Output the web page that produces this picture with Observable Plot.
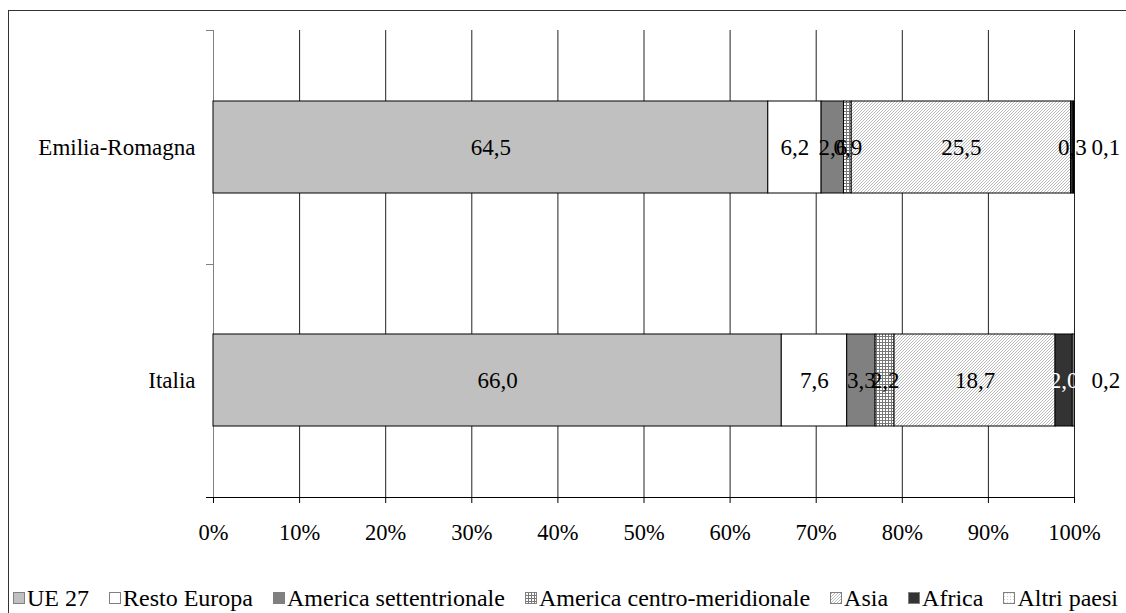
<!DOCTYPE html>
<html>
<head>
<meta charset="utf-8">
<script src="https://cdn.jsdelivr.net/npm/d3@7"></script>
<script src="https://cdn.jsdelivr.net/npm/@observablehq/plot@0.6"></script>
<style>
  html, body { margin: 0; padding: 0; background: #fff; }
  #wrap { position: relative; width: 1126px; height: 613px; overflow: hidden; font-family: "Liberation Serif", "Times New Roman", serif; }
  #border { position: absolute; left: 8px; top: 10px; width: 1200px; height: 700px; border: 1.5px solid #333; box-sizing: border-box; }
  #chart { position: absolute; left: 0; top: 0; }
  #legend { position: absolute; left: 13px; top: 579px; height: 38px; display: flex; align-items: center; font-size: 24px; white-space: nowrap; color: #000; }
  .item { display: flex; align-items: center; margin-right: 20px; }
  .item svg { margin-right: 2px; }
</style>
</head>
<body>
<svg width="0" height="0" style="position:absolute">
  <defs>
    <pattern id="pGrid" width="3" height="3" patternUnits="userSpaceOnUse">
      <rect width="3" height="3" fill="#fff"/>
      <path d="M0 0.5H3M0.5 0V3" stroke="#777" stroke-width="1"/>
    </pattern>
    <pattern id="pDiag" width="3" height="3" patternUnits="userSpaceOnUse">
      <rect width="3" height="3" fill="#fff"/>
      <path d="M-1 1L1 -1M0 3L3 0M2 4L4 2" stroke="#aaa" stroke-width="0.8"/>
    </pattern>
    <pattern id="pDots" width="3" height="3" patternUnits="userSpaceOnUse">
      <rect width="3" height="3" fill="#fff"/>
      <rect x="1" y="1" width="1" height="1" fill="#ccc"/>
    </pattern>
  </defs>
</svg>
<div id="wrap">
  <div id="border"></div>
  <div id="chart"></div>
  <div id="legend"></div>
</div>
<script>
// ---- Data ----
const categories = ["Emilia-Romagna", "Italia"];
const series = ["UE 27", "Resto Europa", "America settentrionale", "America centro-meridionale", "Asia", "Africa", "Altri paesi"];
const emiliaRomagna = [64.5, 6.2, 2.6, 0.9, 25.5, 0.3, 0.1];
const italia = [66.0, 7.6, 3.3, 2.2, 18.7, 2.0, 0.2];
const xTicks = [0, 0.1, 0.2, 0.3, 0.4, 0.5, 0.6, 0.7, 0.8, 0.9, 1.0];

// ---- Styles ----
const fills = ["#c0c0c0", "#ffffff", "#808080", "url(#pGrid)", "url(#pDiag)", "#333333", "url(#pDots)"];

const values = {"Emilia-Romagna": emiliaRomagna, "Italia": italia};
const data = [];
for (const c of categories) series.forEach((s, i) => data.push({cat: c, series: s, value: values[c][i], fill: fills[i]}));

const fmt = v => v.toFixed(1).replace(".", ",");
const font = "'Liberation Serif', 'Times New Roman', serif";

const decor = (index, scales, vals, dims) => {
  const g = d3.create("svg:g");
  const top = dims.marginTop, bottom = dims.height - dims.marginBottom;
  const left = dims.marginLeft, right = dims.width - dims.marginRight;
  const n = categories.length, step = (bottom - top) / n;
  for (let k = 0; k <= n; k++) {
    const yy = Math.round(top + k * step) + 0.5;
    g.append("line").attr("x1", left - 7).attr("x2", left).attr("y1", yy).attr("y2", yy).attr("stroke", "#808080");
  }
  g.append("line").attr("x1", left - 7).attr("x2", right + 0.5).attr("y1", bottom + 0.5).attr("y2", bottom + 0.5).attr("stroke", "#000");
  return g.node();
};

const plot = Plot.plot({
  width: 1126,
  height: 575,
  marginLeft: 213,
  marginRight: 52,
  marginTop: 30,
  marginBottom: 78,
  style: {fontFamily: font, fontSize: "23px", background: "transparent", color: "#000", overflow: "visible"},
  x: {domain: [0, 1], axis: null},
  y: {domain: categories, paddingInner: 0.606, paddingOuter: 0.303, axis: null},
  color: {type: "identity"},
  marks: [
    Plot.ruleX(xTicks, {stroke: "#222", strokeWidth: 1}),
    Plot.ruleX([0], {stroke: "#808080", strokeWidth: 1}),
    Plot.barX(data, Plot.stackX({x: "value", y: "cat", z: "series", offset: "normalize", fill: "fill", stroke: "#000", strokeWidth: 1})),
    Plot.text(data, Plot.stackX({x: "value", y: "cat", z: "series", offset: "normalize",
      text: d => d.series === "Altri paesi" ? "" : fmt(d.value),
      fill: d => (d.series === "Africa" && d.value >= 1) ? "#fff" : "#000",
      fontSize: 23})),
    Plot.text(data, Plot.stackX2({x: "value", y: "cat", z: "series", offset: "normalize",
      text: d => d.series === "Altri paesi" ? fmt(d.value) : "",
      textAnchor: "start", dx: 17, fill: "#000", fontSize: 23})),
    Plot.axisX(xTicks, {tickFormat: d => Math.round(d * 100) + "%", tickSize: 6, tickPadding: 21, stroke: "#000", fontSize: 22.5, label: null}),
    Plot.axisY({tickSize: 0, tickPadding: 18, fontSize: 23, label: null}),
    decor
  ]
});
document.getElementById("chart").appendChild(plot);

// ---- Legend ----
const legend = d3.select("#legend");
series.forEach((s, i) => {
  const item = legend.append("div").attr("class", "item");
  const sw = item.append("svg").attr("width", 12).attr("height", 12);
  sw.append("rect").attr("x", 0.5).attr("y", 0.5).attr("width", 11).attr("height", 11).attr("fill", fills[i]).attr("stroke", "#808080");
  item.append("span").text(s);
});
</script>
</body>
</html>
